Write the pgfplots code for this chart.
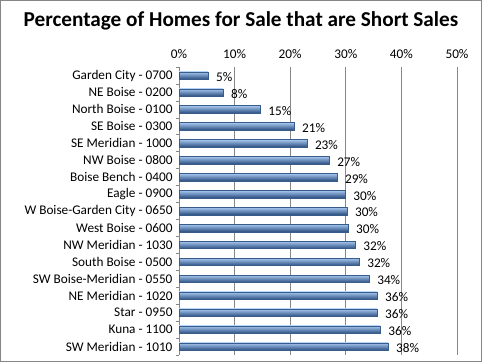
\documentclass[border=0pt]{standalone}
\usepackage{pgfplots}
\pgfplotsset{compat=1.18}
\usepackage{fontspec}
\setmainfont{Carlito}
\definecolor{barTop}{HTML}{A8C8F0}
\definecolor{barMid}{HTML}{5B90D6}
\definecolor{barBot}{HTML}{2A4E80}
\definecolor{barEdge}{HTML}{385D8A}
\definecolor{gridc}{HTML}{868686}
\pgfplotsset{mybar/.style={draw=barEdge, line width=0.3bp, top color=barTop, middle color=barMid, bottom color=barBot, bar shift=0pt}}
\newcommand\barp[3]{\addplot[mybar] coordinates {(#1,#2) [#3]};}
\begin{document}
\begin{tikzpicture}
\path[use as bounding box] (0,0) rectangle (482bp,362bp);
\draw[gridc, line width=0.8bp] (0.5bp,0.5bp) rectangle (481.5bp,361.5bp);
\node[font=\fontsize{21.3}{24}\selectfont\bfseries] at (241bp,341bp) {Percentage of Homes for Sale that are Short Sales};
\begin{axis}[
  at={(179bp,295bp)}, anchor=north west,
  scale only axis, width=278bp, height=288bp,
  xbar, bar width=7.5bp,
  xmin=0, xmax=50,
  ymin=-0.5, ymax=16.5, y dir=reverse,
  xtick={0,10,20,30,40,50},
  xticklabels={0\%,10\%,20\%,30\%,40\%,50\%},
  xticklabel pos=top,
  axis x line*=top, x axis line style={draw=none},
  axis y line*=left, y axis line style={draw=gridc, line width=0.6bp},
  xmajorgrids, grid style={gridc, line width=0.6bp},
  ytick={0,...,16},
  yticklabels={Garden City - 0700, NE Boise - 0200, North Boise - 0100, SE Boise - 0300, SE Meridian - 1000, NW Boise - 0800, Boise Bench - 0400, Eagle - 0900, W Boise-Garden City - 0650, West Boise - 0600, NW Meridian - 1030, South Boise - 0500, SW Boise-Meridian - 0550, NE Meridian - 1020, Star - 0950, Kuna - 1100, SW Meridian - 1010},
  minor ytick={-0.5,0.5,...,16.5},
  major tick length=0pt, minor tick length=3bp,
  minor tick style={gridc, line width=0.6bp},
  tick label style={font=\fontsize{13.3}{15}\selectfont},
  /pgf/number format/assume math mode=true,
  yticklabel style={xshift=-3bp},
  xticklabel style={yshift=5bp},
  point meta=explicit symbolic,
  nodes near coords,
  nodes near coords style={font=\fontsize{13.3}{15}\selectfont, anchor=west, inner sep=1bp, xshift=7bp, yshift=-1.5bp},
]
\barp{5.2}{0}{5\%}
\barp{7.9}{1}{8\%}
\barp{14.6}{2}{15\%}
\barp{20.7}{3}{21\%}
\barp{23.0}{4}{23\%}
\barp{27.0}{5}{27\%}
\barp{28.4}{6}{29\%}
\barp{29.9}{7}{30\%}
\barp{30.2}{8}{30\%}
\barp{30.4}{9}{30\%}
\barp{31.7}{10}{32\%}
\barp{32.4}{11}{32\%}
\barp{34.2}{12}{34\%}
\barp{35.6}{13}{36\%}
\barp{35.6}{14}{36\%}
\barp{36.2}{15}{36\%}
\barp{37.6}{16}{38\%}
\end{axis}
\end{tikzpicture}
\end{document}
